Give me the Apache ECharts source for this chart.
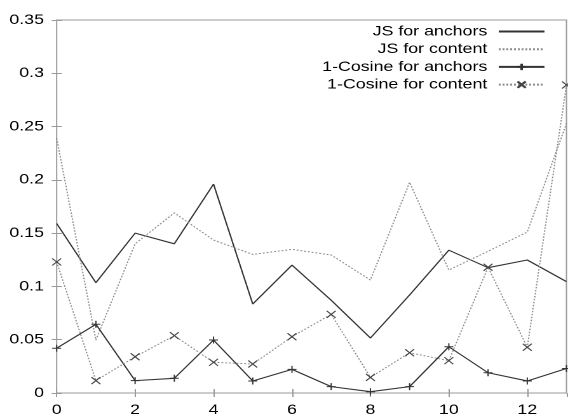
<!DOCTYPE html>
<html>
<head>
<meta charset="utf-8">
<script src="https://cdn.jsdelivr.net/npm/echarts@6/dist/echarts.min.js"></script>
<style>
  html, body { margin: 0; padding: 0; background: #fff; overflow: hidden; }
  #main { width: 447px; height: 419px; transform: scaleX(1.27069); transform-origin: 0 0; }
</style>
</head>
<body>
<div id="main"></div>
<script>
const xValues = [0, 1, 2, 3, 4, 5, 6, 7, 8, 9, 10, 11, 12, 13];
const jsAnchors = [0.159, 0.1035, 0.150, 0.140, 0.196, 0.0835, 0.120, 0.087, 0.0516, 0.092, 0.134, 0.1176, 0.1248, 0.1045];
const jsContent = [0.239, 0.0497, 0.140, 0.169, 0.1435, 0.130, 0.1348, 0.1295, 0.106, 0.1977, 0.1154, 0.133, 0.151, 0.253];
const cosAnchors = [0.042, 0.0645, 0.0116, 0.0138, 0.0497, 0.0113, 0.0222, 0.006, 0.0012, 0.006, 0.0434, 0.019, 0.0113, 0.023];
const cosContent = [0.123, 0.0116, 0.034, 0.0538, 0.0288, 0.0272, 0.0528, 0.0738, 0.0147, 0.0378, 0.0303, 0.118, 0.0429, 0.289];
const seriesNames = ['JS for anchors', 'JS for content', '1-Cosine for anchors', '1-Cosine for content'];

const pairs = (ys) => xValues.map((x, i) => [x, ys[i]]);
const FONT = "'Liberation Sans', Arial, Helvetica, sans-serif";
const frameColor = '#9a9a9a';
const plusPath = 'path://M0,10L20,10M10,0L10,20';
const crossPath = 'path://M0,0L20,20M20,0L0,20';

const chart = echarts.init(document.getElementById('main'), null, { renderer: 'canvas', devicePixelRatio: 2 });

const tickCommon = { show: true, inside: true, length: 4, lineStyle: { color: frameColor, width: 1 } };

chart.setOption({
  animation: false,
  backgroundColor: '#fff',
  grid: { left: 44.6, right: 1.2, top: 20, bottom: 26, show: true, borderColor: frameColor, borderWidth: 1, containLabel: false },
  legend: {
    orient: 'vertical', right: 17.5, top: 24.5, padding: 0, align: 'right',
    itemWidth: 36, itemHeight: 8, itemGap: 3.7,
    textStyle: { fontSize: 14, color: '#000', fontFamily: FONT, padding: [0, 4, 0, 0] },
    data: seriesNames
  },
  xAxis: [
    { type: 'value', min: 0, max: 13, interval: 2, position: 'bottom',
      axisLine: { show: false }, splitLine: { show: false }, axisTick: tickCommon,
      axisLabel: { fontSize: 14, color: '#000', fontFamily: FONT, margin: 10, showMaxLabel: false,
        formatter: (v) => (v === 13 ? '' : String(v)) } },
    { type: 'value', min: 0, max: 13, interval: 2, position: 'top',
      axisLine: { show: false }, splitLine: { show: false }, axisTick: tickCommon,
      axisLabel: { show: false } }
  ],
  yAxis: [
    { type: 'value', min: 0, max: 0.35, interval: 0.05, position: 'left',
      axisLine: { show: false }, splitLine: { show: false }, axisTick: tickCommon,
      axisLabel: { fontSize: 14, color: '#000', fontFamily: FONT, margin: 10 } },
    { type: 'value', min: 0, max: 0.35, interval: 0.05, position: 'right',
      axisLine: { show: false }, splitLine: { show: false }, axisTick: tickCommon,
      axisLabel: { show: false } }
  ],
  series: [
    { name: seriesNames[0], type: 'line', data: pairs(jsAnchors), symbol: 'circle', showSymbol: false,
      itemStyle: { color: '#333', opacity: 0 }, lineStyle: { color: '#333', width: 1.1, type: 'solid', opacity: 1 } },
    { name: seriesNames[1], type: 'line', data: pairs(jsContent), symbol: 'circle', showSymbol: false,
      itemStyle: { color: '#8a8a8a', opacity: 0 }, lineStyle: { color: '#8a8a8a', width: 1, type: [1.5, 1.5], opacity: 1 } },
    { name: seriesNames[2], type: 'line', data: pairs(cosAnchors), symbol: plusPath, symbolSize: 7,
      itemStyle: { color: '#333', borderColor: '#333', borderWidth: 1 },
      lineStyle: { color: '#333', width: 1.1, type: 'solid' } },
    { name: seriesNames[3], type: 'line', data: pairs(cosContent), symbol: crossPath, symbolSize: 7,
      itemStyle: { color: '#444', borderColor: '#444', borderWidth: 1 },
      lineStyle: { color: '#8a8a8a', width: 1, type: [1.5, 1.5] } }
  ]
});
</script>
</body>
</html>
